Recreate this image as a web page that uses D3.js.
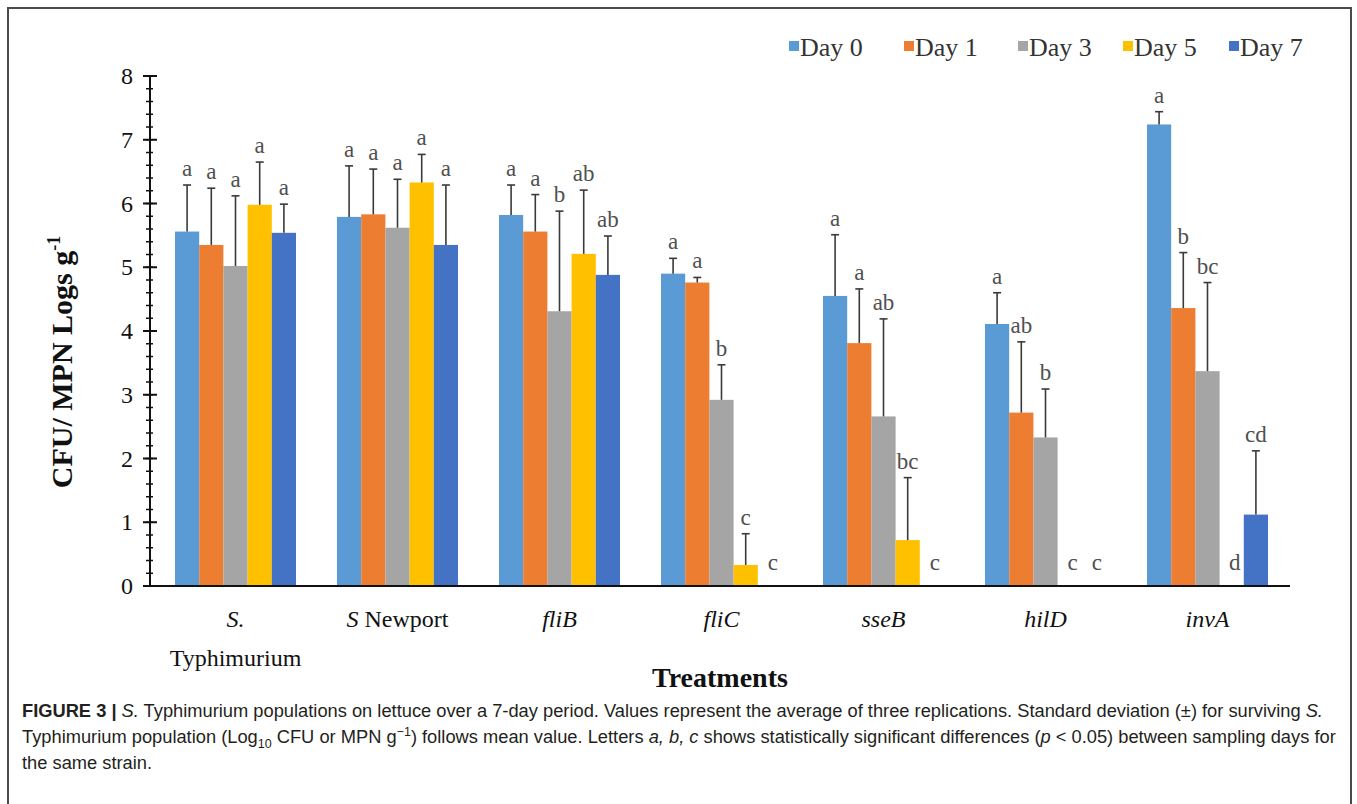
<!DOCTYPE html>
<html><head><meta charset="utf-8">
<script src="https://cdn.jsdelivr.net/npm/d3@7"></script>
<style>
html,body{margin:0;padding:0;background:#fff;}
svg{display:block;}
</style></head>
<body>
<svg id="chart" width="1357" height="804"></svg>
<script>
const categories = ["S. Typhimurium","S Newport","fliB","fliC","sseB","hilD","invA"];
const days = ["Day 0","Day 1","Day 3","Day 5","Day 7"];
const colors = ["#5B9BD5","#ED7D31","#A5A5A5","#FFC000","#4472C4"];
// means (log CFU / MPN g-1)
const day0 = [5.56,5.79,5.82,4.90,4.55,4.11,7.24];
const day1 = [5.35,5.83,5.56,4.76,3.81,2.72,4.36];
const day3 = [5.02,5.62,4.31,2.92,2.66,2.33,3.37];
const day5 = [5.98,6.33,5.21,0.33,0.72,0,0];
const day7 = [5.54,5.35,4.88,0,0,0,1.12];
// standard deviations
const sd0 = [0.73,0.80,0.47,0.24,0.96,0.49,0.20];
const sd1 = [0.89,0.71,0.58,0.08,0.85,1.11,0.87];
const sd3 = [1.10,0.76,1.57,0.55,1.53,0.76,1.39];
const sd5 = [0.67,0.44,1.00,0.49,0.98,0,0];
const sd7 = [0.45,0.94,0.61,0,0,0,1.00];
// significance letters
const let0 = ["a","a","a","a","a","a","a"];
const let1 = ["a","a","a","a","a","ab","b"];
const let3 = ["a","a","b","b","ab","b","bc"];
const let5 = ["a","a","ab","c","bc","c","d"];
const let7 = ["a","a","ab","c","c","c","cd"];
const yTicks = [0,1,2,3,4,5,6,7,8];

const means = [day0,day1,day3,day5,day7];
const sds = [sd0,sd1,sd3,sd5,sd7];
const letters = [let0,let1,let3,let5,let7];

const svg = d3.select("#chart");
const serif = "'Liberation Serif','Times New Roman',serif";
const sans = "'Liberation Sans',Arial,Helvetica,sans-serif";

// frame
svg.append("path").attr("d","M8,806 L8,8 L1351,8 L1351,806")
  .attr("fill","none").attr("stroke","#4a4a4a").attr("stroke-width",2);

const x0 = d3.scaleBand().domain(categories).range([154.5,1288.5]).paddingInner(0.253).paddingOuter(0.1265);
const x1 = d3.scaleBand().domain(days).range([0,x0.bandwidth()]);
const y = d3.scaleLinear().domain([0,8]).range([586,76]);

const data = [];
categories.forEach((c,i)=>days.forEach((d,j)=>data.push({c,d,j,v:means[j][i],sd:sds[j][i],l:letters[j][i]})));

// bars
svg.append("g").selectAll("rect").data(data.filter(e=>e.v>0)).join("rect")
  .attr("x",e=>x0(e.c)+x1(e.d)).attr("width",x1.bandwidth())
  .attr("y",e=>y(e.v)).attr("height",e=>y(0)-y(e.v))
  .attr("fill",e=>colors[e.j]);

// error bars
const eg = svg.append("g").attr("stroke","#3a3a3a").attr("stroke-width",1.6);
data.filter(e=>e.v>0).forEach(e=>{
  const cx = x0(e.c)+x1(e.d)+x1.bandwidth()/2;
  eg.append("line").attr("x1",cx).attr("x2",cx).attr("y1",y(e.v)).attr("y2",y(e.v+e.sd));
  eg.append("line").attr("x1",cx-4).attr("x2",cx+4).attr("y1",y(e.v+e.sd)).attr("y2",y(e.v+e.sd));
});

// letters
svg.append("g").selectAll("text").data(data).join("text")
  .attr("x",e=>x0(e.c)+x1(e.d)+x1.bandwidth()/2 + (e.v>0?0:3))
  .attr("y",e=>e.v>0 ? y(e.v+e.sd)-9 : y(0)-16)
  .attr("text-anchor","middle")
  .attr("font-family",serif).attr("font-size",23)
  .attr("fill","#505050").text(e=>e.l);

// y axis
const ya = svg.append("g").attr("transform","translate(150,0)");
ya.append("line").attr("x1",0).attr("x2",0).attr("y1",y(8)).attr("y2",y(0)).attr("stroke","#111").attr("stroke-width",2);
const minor = d3.range(0,8.001,0.2);
ya.selectAll("line.minor").data(minor).join("line").attr("class","minor")
  .attr("x1",-4).attr("x2",3).attr("y1",d=>y(d)).attr("y2",d=>y(d)).attr("stroke","#111").attr("stroke-width",1.5);
ya.selectAll("line.major").data(yTicks).join("line").attr("class","major")
  .attr("x1",-7).attr("x2",7).attr("y1",d=>y(d)).attr("y2",d=>y(d)).attr("stroke","#111").attr("stroke-width",2);
ya.selectAll("text").data(yTicks).join("text")
  .attr("x",-17).attr("y",d=>y(d)+8).attr("text-anchor","end")
  .attr("font-family",serif).attr("font-size",24).attr("fill","#111").text(d=>d);

// x axis baseline
svg.append("line").attr("x1",149).attr("x2",1290).attr("y1",y(0)).attr("y2",y(0)).attr("stroke","#111").attr("stroke-width",2);

// category labels
const xl = svg.append("g").attr("font-family",serif).attr("font-size",24).attr("fill","#111").attr("text-anchor","middle");
categories.forEach((c,i)=>{
  const cx = x0(c)+x0.bandwidth()/2;
  const t = xl.append("text").attr("x",cx).attr("y",627);
  if(i===0){
    t.append("tspan").attr("font-style","italic").text("S.");
    xl.append("text").attr("x",cx).attr("y",666).text("Typhimurium");
  } else if(i===1){
    t.append("tspan").attr("font-style","italic").text("S");
    t.append("tspan").text(" Newport");
  } else {
    t.attr("font-style","italic").text(c);
  }
});

// axis titles
svg.append("text").attr("x",720).attr("y",687).attr("text-anchor","middle")
  .attr("font-family",serif).attr("font-weight","bold").attr("font-size",28).attr("fill","#111").text("Treatments");
const yt = svg.append("text").attr("transform","translate(72,362) rotate(-90)").attr("text-anchor","middle")
  .attr("font-family",serif).attr("font-weight","bold").attr("font-size",30).attr("fill","#111");
yt.append("tspan").text("CFU/ MPN Logs g");
yt.append("tspan").attr("font-size",18).attr("dy",-12).text("-1");

// legend
const lg = svg.append("g").attr("font-family",serif).attr("font-size",26).attr("fill","#333");
const legX = [789,904,1018,1123,1229];
days.forEach((d,j)=>{
  lg.append("rect").attr("x",legX[j]).attr("y",41).attr("width",10).attr("height",10).attr("fill",colors[j]);
  lg.append("text").attr("x",legX[j]+11).attr("y",56).text(d);
});

// caption
const cap = svg.append("g").attr("font-family",sans).attr("font-size",18.3).attr("fill","#231f20");
const l1 = cap.append("text").attr("x",22).attr("y",717);
l1.append("tspan").attr("font-weight","bold").text("FIGURE 3 | ");
l1.append("tspan").attr("font-style","italic").text("S.");
l1.append("tspan").text(" Typhimurium populations on lettuce over a 7-day period. Values represent the average of three replications. Standard deviation (\u00B1) for surviving ");
l1.append("tspan").attr("font-style","italic").text("S.");
const l2 = cap.append("text").attr("x",22).attr("y",743);
l2.append("tspan").text("Typhimurium population (Log");
l2.append("tspan").attr("font-size",12.5).attr("dy",5).text("10");
l2.append("tspan").attr("dy",-5).text(" CFU or MPN g");
l2.append("tspan").attr("font-size",12.5).attr("dy",-7).text("\u22121");
l2.append("tspan").attr("dy",7).text(") follows mean value. Letters ");
l2.append("tspan").attr("font-style","italic").text("a, b, c");
l2.append("tspan").text(" shows statistically significant differences (");
l2.append("tspan").attr("font-style","italic").text("p");
l2.append("tspan").text(" < 0.05) between sampling days for");
cap.append("text").attr("x",22).attr("y",769).text("the same strain.");
</script>
</body></html>
